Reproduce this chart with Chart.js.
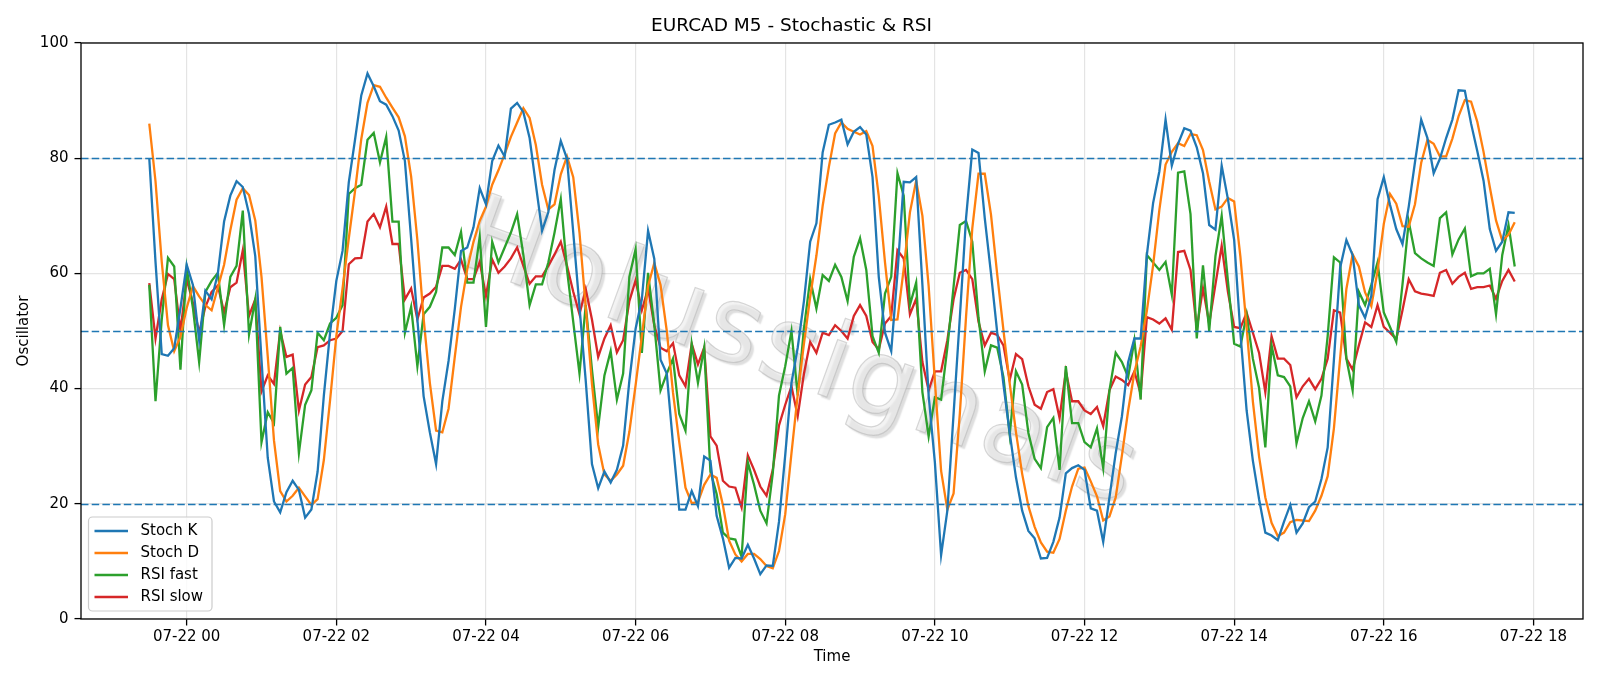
<!DOCTYPE html>
<html><head><meta charset="utf-8">
<script src="https://cdn.jsdelivr.net/npm/chart.js@4.4.0/dist/chart.umd.min.js"></script>
<style>html,body{margin:0;padding:0;background:#fff;}#wrap{width:1600px;height:686px;}</style>
</head><body><div id="wrap"><canvas id="c" width="1600" height="686"></canvas></div>
<script>
// Time axis: hours relative to 07-22 00:00, first bar at 23:30 of previous day, M5 bars
const startHour = -0.5;
const stepMinutes = 5;

const stochK = [
80,62,46,45.7,47,54,61.5,58,48.4,57,
55.5,60,69,73.5,76,75,70.3,63,45,28,
20.4,18.5,22,24,22.4,17.6,19,25.6,38.8,49.7,
58.7,63.9,75.8,83.2,90.9,94.7,92.5,89.9,89.3,87.3,
84.8,79.5,66,52,38.7,32.4,26.9,37.8,44.8,53.8,
63.9,64.5,68,74.8,72,79.5,82.2,80.3,88.6,89.6,
88,83.5,75.4,67.4,70.6,78,83,79.9,67.1,54.2,
41.4,26.9,22.7,25.6,23.7,25.9,30.1,41.4,50.4,55.5,
67.4,62.5,45,42.6,30.4,19,19,22.2,19.6,28.2,
27.5,17.9,14,8.9,10.6,10.5,12.9,10.5,7.8,9.3,
9.2,16.9,28.5,41,47.1,55.2,65.5,68.7,81,85.8,
86.2,86.7,82.4,84.6,85.4,84.1,76.7,59.4,49.7,46.5,
60,75.9,75.8,76.7,58,38.8,27.2,11.1,18.8,35.6,
52.3,69.6,81.5,80.9,69.6,60,49.7,40.7,32.3,24.6,
18.8,15.3,14,10.5,10.6,13.4,17.6,25.3,26.2,26.7,
25.9,19.2,18.8,13.4,21.1,28.8,35.2,44.6,48.7,48.7,
63.2,72.2,77.7,86.7,78.7,82.5,85.2,84.8,81.9,77.4,
68.4,67.6,78.7,72.9,65.8,49.7,36.2,27.5,20.8,15,
14.5,13.7,16.9,19.8,15,16.6,19.4,20.4,24.3,29.8,
45,61,65.8,63.2,54.5,52.3,56.1,72.9,76.7,71.9,
67.7,65.1,71.6,79.3,86.7,83.5,77.4,79.9,83.5,86.7,
91.8,91.7,86,81.2,76.1,67.7,63.9,65.5,70.6,70.5
];
const stochD = [
86,76,62,51,46.5,49,54,57.8,56,54.5,
53.6,57.5,61.5,67.5,72.8,74.8,73.6,69.2,59.4,45.6,
31,22.2,20.4,21.4,22.8,21.3,19.8,20.8,27.6,38,
49.1,57.4,66.1,74.3,83.3,89.6,92.7,92.4,90.5,88.8,
87.1,83.8,76.8,65.8,52.2,41,32.7,32.4,36.5,45.5,
54.2,60.7,65.5,69.1,71.6,75.4,77.9,80.7,83.7,86.2,
88.7,87,82.3,75.4,71.1,72,77.2,80.3,76.7,67.1,
54.2,40.8,30.3,25.1,24,25.1,26.6,32.5,40.6,49.1,
57.8,61.8,58,50,39.3,30.7,22.8,20.1,20.3,23.3,
25.1,24.5,19.8,13.6,11.2,10,11.3,11.3,10.4,9.2,
8.8,11.8,18.2,28.8,38.9,47.8,55.9,63.1,71.7,78.5,
84.3,86.2,85.1,84.6,84.1,84.7,82.1,73.4,61.9,51.9,
52,60.8,70.6,76.1,70,57.8,41.3,25.7,19,21.8,
35.6,52.5,67.8,77.3,77.3,70.2,59.8,50.1,40.9,32.5,
25.2,19.6,16,13.3,11.7,11.5,13.9,18.8,23,26.1,
26.3,23.9,21.3,17.1,17.8,21.1,28.4,36.2,42.8,47.3,
53.5,61.4,71,78.9,81.1,82.6,82.1,84.2,84,81.4,
75.9,71.1,71.6,73.1,72.5,62.9,50.6,37.8,28.2,21.1,
16.7,14.4,15,16.8,17.2,17.1,17,18.8,21.4,24.8,
33.1,45.3,57.3,63.3,61.2,56.7,54.3,60.4,68.6,73.8,
72.1,68.2,68.1,72,79.2,83.2,82.5,80.3,80.3,83.4,
87.3,90.1,89.8,86.3,81.1,75,69.2,65.7,66.7,68.9
];
const rsiFast = [
58,37.8,52,62.7,61.2,43.3,61,54,44.6,56.8,
58.7,60.1,51,59.4,61.3,70.9,49.4,55.5,30.7,35.9,
34,50.7,42.6,43.6,28.8,37.2,39.7,49.7,48.4,51.3,
52.3,54.5,73.8,74.8,75.4,83.2,84.4,79.3,83.7,69,
69,49.7,54.2,43.9,52.9,54.2,56.8,64.5,64.5,63.2,
67.2,58.4,58.4,66.4,50.7,65.5,61.9,64.5,67.1,70.3,
63.2,54.5,58.1,58.1,61.9,67.1,72.9,60.6,51.6,42.6,
54.5,43.3,33.3,42.3,46.5,38.1,42.6,59.4,64.2,46.2,
60.1,51,39.7,42.6,45.2,35.6,32.7,47.8,41,47.1,
25.6,21.7,15,14,13.8,10.8,27.2,23.3,18.8,16.6,
25.3,38.8,43.9,50,38.8,50.4,59,53.9,59.7,58.7,
61.5,59.4,55.2,62.9,66.1,60.6,49.1,46.2,56.5,59.4,
77.4,73.5,54.5,58.4,39.4,31.7,38.5,38.1,47.1,57.7,
68.4,69.1,65.5,52.3,43,47.5,47.1,42,32,43,
40.7,32.3,27.8,26.2,33.3,34.9,25.9,43.9,34,34,
30.7,29.8,33.1,26.2,39.7,46.2,44.6,42,48.4,38.1,
63.2,61.9,60.6,62,56.3,77.5,77.7,70.3,48.7,61.4,
50,63,70,58.7,47.8,47.3,52.9,45.2,40.1,29.8,
47.5,42.3,42,40.4,30.5,34.9,37.8,34.3,38.8,49.1,
62.8,61.9,45.2,39.7,56.8,54.5,58,61.9,53.2,50.7,
48.1,58.1,69,63.5,62.6,61.9,61.3,69.6,70.6,63.3,
65.9,67.8,59.5,60,60,60.8,52.9,63.2,68.4,61.2
];
const rsiSlow = [
58.3,48.7,55.5,59.9,59,50,59,54.9,49.7,54.2,
56.8,57.9,53.2,57.6,58.4,64,52.6,55.5,39.5,42.3,
40.8,50,45.5,45.9,36.2,40.7,42,47.2,47.5,48.4,
48.7,50,61.6,62.6,62.7,69,70.3,68,71.6,65.1,
65.1,55.5,57.4,52,55.8,56.5,57.7,61.3,61.3,60.8,
62.4,59,59,62,56.1,62.4,60.1,61.2,62.6,64.5,
61.3,58.2,59.5,59.5,61.3,63.3,65.5,61.3,56.8,52.9,
57.3,52,45.5,48.7,51,46.3,48.4,55.2,58.8,53.6,
57.4,51,47.1,46.5,47.9,42.3,40.4,47.8,44.2,47.1,
31.7,30.1,24,23,22.8,19.4,28.4,25.9,23,21.4,
25.9,33.6,37.2,40.4,35.2,42.6,48.1,46.2,49.7,49.3,
51,50,48.7,52.6,54.5,52.6,48.1,46.8,51.3,52.6,
64,62.6,52.9,55.6,44.6,39.7,43,43,48.4,55.5,
60.1,60.6,59,51.6,47.5,49.7,49.3,47.5,41.5,46,
45.1,40.4,37.2,36.5,39.4,39.9,34.9,43,37.8,37.8,
36.2,35.6,36.8,33.5,39.7,42.1,41.5,40.6,43,39.1,
52.4,52,51.3,52.2,50.2,63.7,63.9,60.6,50.4,57.4,
51.3,58.1,64.8,56.8,50.7,50.5,53.2,49.7,46.2,39.4,
49.1,45.2,45.2,44.1,38.5,40.4,41.7,39.9,41.7,45.2,
53.6,53.2,45.2,43.3,47.5,51.5,50.7,54.5,50.7,49.7,
48.6,53.6,59,56.9,56.5,56.3,56.1,60.1,60.6,58.2,
59.4,60.1,57.3,57.6,57.6,57.9,55.6,58.7,60.6,58.6
];

const tickHours = [0,2,4,6,8,10,12,14,16,18];
const tickLabels = ['07-22 00','07-22 02','07-22 04','07-22 06','07-22 08','07-22 10','07-22 12','07-22 14','07-22 16','07-22 18'];
const yTicks = [0,20,40,60,80,100];
const levels = [80,50,20];
const seriesNames = ['Stoch K','Stoch D','RSI fast','RSI slow'];
const seriesColors = ['#1f77b4','#ff7f0e','#2ca02c','#d62728'];
const titleText = 'EURCAD M5 - Stochastic & RSI';
const xTitle = 'Time';
const yTitle = 'Oscillator';
const watermarkText = 'Holussignals';

const times = stochK.map((_, i) => startHour + i * stepMinutes / 60);
const span = times[times.length - 1] - times[0];
const xMin = times[0] - 0.05 * span;
const xMax = times[times.length - 1] + 0.05 * span;

const FONT = 'DejaVu Sans';
const tickFont = {family: FONT, size: 15};

const allSeries = [stochK, stochD, rsiFast, rsiSlow];

const decorPlugin = {
  id: 'decor',
  beforeDatasetsDraw(chart) {
    const {ctx, chartArea: a} = chart;
    ctx.save();
    ctx.beginPath(); ctx.rect(a.left, a.top, a.right - a.left, a.bottom - a.top); ctx.clip();
    ctx.translate(800, 358);
    ctx.rotate(20 * Math.PI / 180);
    ctx.font = '106px "DejaVu Sans"';
    if ('letterSpacing' in ctx) ctx.letterSpacing = '4px';
    ctx.textAlign = 'center';
    ctx.textBaseline = 'middle';
    ctx.shadowColor = 'rgba(0,0,0,0.22)';
    ctx.shadowOffsetX = 3; ctx.shadowOffsetY = 3; ctx.shadowBlur = 1.5;
    ctx.fillStyle = 'rgba(235,235,235,0.6)';
    ctx.fillText(watermarkText, 0, 0);
    ctx.shadowColor = 'transparent';
    ctx.strokeStyle = 'rgba(170,170,170,0.45)';
    ctx.lineWidth = 1.2;
    ctx.strokeText(watermarkText, 0, 0);
    ctx.restore();
  },
  afterDatasetsDraw(chart) {
    const {ctx, chartArea: a, scales} = chart;
    ctx.save();
    ctx.strokeStyle = '#1f77b4';
    ctx.lineWidth = 1.6;
    ctx.setLineDash([7.5, 3.2]);
    levels.forEach(l => {
      const y = Math.round(scales.y.getPixelForValue(l)) + 0.5;
      ctx.beginPath(); ctx.moveTo(a.left, y); ctx.lineTo(a.right, y); ctx.stroke();
    });
    ctx.restore();
  },
  afterDraw(chart) {
    const {ctx, chartArea: a} = chart;
    ctx.save();
    ctx.strokeStyle = '#000'; ctx.lineWidth = 1.3;
    ctx.strokeRect(a.left, a.top, a.right - a.left, a.bottom - a.top);
    const bx = a.left + 7.5, by = a.bottom - 102, bw = 123.5, bh = 94;
    ctx.beginPath();
    if (ctx.roundRect) ctx.roundRect(bx, by, bw, bh, 4); else ctx.rect(bx, by, bw, bh);
    ctx.fillStyle = 'rgba(255,255,255,0.8)'; ctx.fill();
    ctx.strokeStyle = '#cccccc'; ctx.lineWidth = 1.2; ctx.stroke();
    ctx.font = '15px "DejaVu Sans"';
    ctx.textBaseline = 'middle'; ctx.textAlign = 'left';
    chart.data.datasets.forEach((ds, i) => {
      const y = by + 14 + i * 22;
      ctx.strokeStyle = ds.borderColor; ctx.lineWidth = 2.4;
      ctx.beginPath(); ctx.moveTo(bx + 6, y); ctx.lineTo(bx + 39.5, y); ctx.stroke();
      ctx.fillStyle = '#000';
      ctx.fillText(ds.label, bx + 52, y);
    });
    ctx.restore();
  }
};

new Chart(document.getElementById('c'), {
  type: 'line',
  data: {
    labels: times,
    datasets: allSeries.map((s, i) => ({
      label: seriesNames[i], data: s, borderColor: seriesColors[i], backgroundColor: seriesColors[i],
      borderWidth: 2.3, pointRadius: 0, tension: 0, fill: false
    }))
  },
  options: {
    responsive: false, animation: false, devicePixelRatio: 1,
    layout: {padding: {left: 0, right: 17, top: 0, bottom: 0}},
    plugins: {
      legend: {display: false}, tooltip: {enabled: false},
      title: {display: true, text: titleText, color: '#000',
        font: {family: FONT, size: 18.5, weight: 'normal'}, padding: {top: 15.4, bottom: 5.4}}
    },
    scales: {
      x: {
        type: 'linear', min: xMin, max: xMax,
        afterBuildTicks: s => { s.ticks = tickHours.map(v => ({value: v})); },
        afterFit: s => { s.height = 67; },
        ticks: {autoSkip: false, maxRotation: 0, minRotation: 0, padding: 3, color: '#000', font: tickFont,
          callback: (v, i) => tickLabels[i]},
        grid: {color: '#e4e4e4', lineWidth: 1.2, tickColor: '#000', tickLength: 6.5, tickWidth: 1.3},
        border: {display: false},
        title: {display: true, text: xTitle, color: '#000', font: tickFont, padding: {top: 0, bottom: 20}}
      },
      y: {
        min: 0, max: 100,
        afterBuildTicks: s => { s.ticks = yTicks.map(v => ({value: v})); },
        afterFit: s => { s.width = 81; },
        ticks: {padding: 6, color: '#000', font: tickFont, callback: (v) => String(v)},
        grid: {color: '#e4e4e4', lineWidth: 1.2, tickColor: '#000', tickLength: 6.5, tickWidth: 1.3},
        border: {display: false},
        title: {display: true, text: yTitle, color: '#000', font: tickFont, padding: {top: 15, bottom: 0}}
      }
    }
  },
  plugins: [decorPlugin]
});
</script></body></html>
